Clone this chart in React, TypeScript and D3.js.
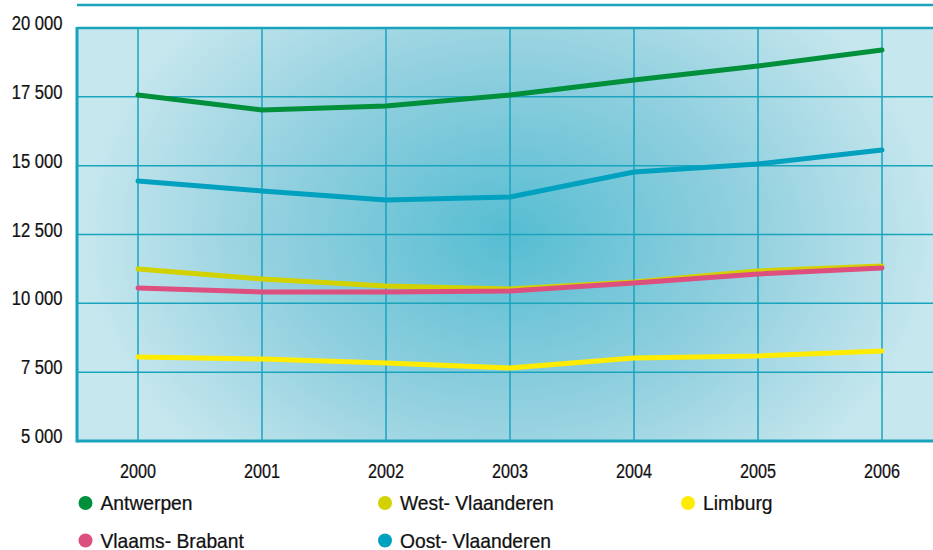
import React from "react";
import * as d3 from "d3";

const years = [2000, 2001, 2002, 2003, 2004, 2005, 2006];
const yTicks = [5000, 7500, 10000, 12500, 15000, 17500, 20000];
const antwerpen = [17567, 17022, 17167, 17567, 18111, 18620, 19201];
const oostVlaanderen = [14443, 14080, 13753, 13862, 14770, 15060, 15569];
const westVlaanderen = [11247, 10884, 10630, 10521, 10775, 11174, 11356];
const vlaamsBrabant = [10557, 10412, 10412, 10448, 10738, 11065, 11283];
const limburg = [8051, 7978, 7833, 7651, 8015, 8087, 8269];

const seriesNames = ["Antwerpen", "West- Vlaanderen", "Limburg", "Vlaams- Brabant", "Oost- Vlaanderen"];
const seriesColors = ["#008f3a", "#d2d200", "#ffec00", "#dd4f7e", "#00a1bf"];
const seriesValues = [antwerpen, westVlaanderen, limburg, vlaamsBrabant, oostVlaanderen];
// drawing order (back to front)
const drawOrder = [0, 4, 1, 3, 2];

const FONT = "'Liberation Sans', Arial, sans-serif";

function CText(props: { x: number; y: number; sx: number; size: number; anchor?: string; children: React.ReactNode }) {
  return (
    <text
      transform={`translate(${props.x},${props.y}) scale(${props.sx},1)`}
      textAnchor={props.anchor || "start"}
      fontFamily={FONT}
      fontSize={props.size}
      fill="#111"
      stroke="#111"
      strokeWidth={0.25}
    >
      {props.children}
    </text>
  );
}

export default function App() {
  const W = 933, H = 550;
  const left = 77, right = 933, top = 28, bottom = 441;
  const x = d3.scalePoint<number>().domain(years).range([138, 882]);
  const y = d3.scaleLinear().domain([5000, 20000]).range([bottom, top]);
  const line = d3.line<number>().x((_, i) => x(years[i])!).y((d) => y(d));
  const grid = "#1aa3bc";
  const cx = x(2003)!, cy = y(12500);

  return (
    <svg width={W} height={H} style={{ position: "absolute", left: 0, top: 0 }}>
      <defs>
        <radialGradient id="bg" gradientUnits="userSpaceOnUse" cx={cx} cy={cy} r={430} gradientTransform={`translate(${cx},${cy}) scale(1,0.75) translate(${-cx},${-cy})`}>
          <stop offset="0" stopColor="#56bdd2" />
          <stop offset="0.55" stopColor="#92d0df" />
          <stop offset="1" stopColor="#c7e7ee" />
        </radialGradient>
        <clipPath id="plot">
          <rect x={left} y={top} width={right - left} height={bottom - top} />
        </clipPath>
      </defs>
      <rect x={0} y={0} width={W} height={H} fill="#fff" />
      <line x1={77} x2={933} y1={5} y2={5} stroke={grid} strokeWidth={2.5} />
      <rect x={left} y={top} width={right - left} height={bottom - top} fill="url(#bg)" />
      {yTicks.map((t) => (
        <line key={"h" + t} x1={left} x2={right} y1={y(t)} y2={y(t)} stroke={grid} strokeWidth={1.5} />
      ))}
      {years.map((yr) => (
        <line key={"v" + yr} x1={x(yr)} x2={x(yr)} y1={top} y2={bottom} stroke={grid} strokeWidth={1.5} />
      ))}
      <line x1={left} x2={right} y1={top} y2={top} stroke={grid} strokeWidth={2.5} />
      <line x1={left} x2={left} y1={top - 1} y2={bottom + 1.5} stroke={grid} strokeWidth={3} />
      <line x1={left} x2={right} y1={bottom} y2={bottom} stroke={grid} strokeWidth={3} />
      <g clipPath="url(#plot)">
        {drawOrder.map((i) => (
          <path key={seriesNames[i]} d={line(seriesValues[i]) || ""} fill="none" stroke={seriesColors[i]} strokeWidth={5} strokeLinejoin="round" strokeLinecap="round" />
        ))}
      </g>
      {yTicks.map((t) => (
        <CText key={"yl" + t} x={62.5} y={y(t) + 2} sx={0.81} size={20.5} anchor="end">
          {d3.format(",")(t).replace(",", " ")}
        </CText>
      ))}
      {years.map((yr) => (
        <CText key={"xl" + yr} x={x(yr)!} y={477.5} sx={0.79} size={20.5} anchor="middle">
          {yr}
        </CText>
      ))}
      {seriesNames.map((n, i) => {
        const col = i % 3, row = Math.floor(i / 3);
        const lx = [85.5, 385, 688][col];
        const ly = 503 + row * 37.5;
        return (
          <g key={"lg" + n}>
            <circle cx={lx} cy={ly} r={7} fill={seriesColors[i]} />
            <CText x={lx + 15} y={ly + 7} sx={0.94} size={20.5}>{n}</CText>
          </g>
        );
      })}
    </svg>
  );
}
